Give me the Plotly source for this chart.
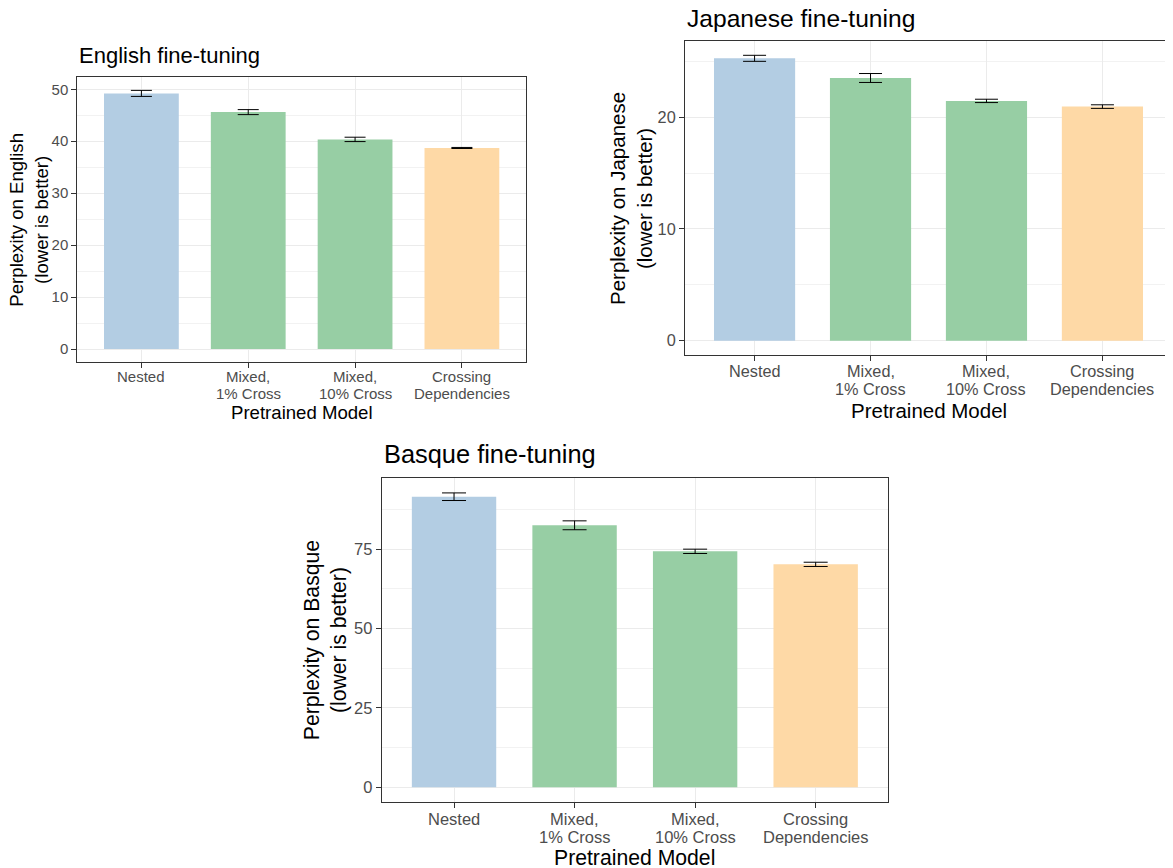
import plotly.graph_objects as go

# ---- data ----
categories = ["Nested", "Mixed, 1% Cross", "Mixed, 10% Cross", "Crossing Dependencies"]
tick_lines = [("Nested", ""), ("Mixed,", "1% Cross"), ("Mixed,", "10% Cross"), ("Crossing", "Dependencies")]
bar_colors = ["#B3CDE3", "#97CEA4", "#97CEA4", "#FED9A6"]

english_vals = [49.2, 45.6, 40.35, 38.7]
english_err = [0.58, 0.48, 0.42, 0.1]

japanese_vals = [25.27, 23.51, 21.46, 20.95]
japanese_err = [0.27, 0.40, 0.15, 0.16]

basque_vals = [91.5, 82.5, 74.3, 70.2]
basque_err = [1.2, 1.4, 0.68, 0.67]

english_ticks = [0, 10, 20, 30, 40, 50]
japanese_ticks = [0, 10, 20]
basque_ticks = [0, 25, 50, 75]

FONT = "Liberation Sans, Arial, sans-serif"
PAGE_W, PAGE_H = 1173, 868
OFF = 8  # default body margin of the page
W, H = PAGE_W - OFF, PAGE_H - OFF


def px_x(px):
    return (px - OFF) / W


def px_y(py):
    return 1 - (py - OFF) / H


panels = [
    dict(vals=english_vals, err=english_err, ticks=english_ticks, minor=5, yr=[-2.49, 52.3],
         box=(77.3, 526, 77.3, 362), hw=10.5, tf=15, af=18.6, pf=22,
         title="English fine-tuning", ylab="Perplexity on English<br>(lower is better)",
         title_y=55, ylab_x=29, xlab_y=412, tl1=377, tl2=393),
    dict(vals=japanese_vals, err=japanese_err, ticks=japanese_ticks, minor=5, yr=[-1.28, 26.82],
         box=(685, 1172, 41, 355), hw=11.5, tf=16.3, af=20.5, pf=24.6,
         title="Japanese fine-tuning", ylab="Perplexity on Japanese<br>(lower is better)",
         title_y=18, ylab_x=631, xlab_y=410, tl1=371, tl2=388.5),
    dict(vals=basque_vals, err=basque_err, ticks=basque_ticks, minor=12.5, yr=[-4.64, 97.3],
         box=(381.7, 888, 478.3, 802), hw=12, tf=16.5, af=21.2, pf=25.4,
         title="Basque fine-tuning", ylab="Perplexity on Basque<br>(lower is better)",
         title_y=454, ylab_x=326, xlab_y=857.5, tl1=818.5, tl2=837),
]

fig = go.Figure()
annotations = []
layout_axes = {}

for i, p in enumerate(panels, start=1):
    sfx = "" if i == 1 else str(i)
    xa, ya = "x" + sfx, "y" + sfx
    left, right, top, bottom = p["box"]
    fig.add_trace(go.Bar(
        x=categories, y=p["vals"], xaxis=xa, yaxis=ya,
        marker=dict(color=bar_colors, line=dict(width=0)),
        width=0.7,
        error_y=dict(type="data", array=p["err"], visible=True,
                     color="black", thickness=1, width=p["hw"]),
        hoverinfo="x+y", showlegend=False,
    ))
    layout_axes["xaxis" + sfx] = dict(
        domain=[px_x(left), px_x(right)], anchor=ya,
        type="category", range=[-0.6, 3.6],
        showgrid=True, gridcolor="#EBEBEB", gridwidth=1.3,
        showline=True, mirror=True, linecolor="#333333", linewidth=1,
        ticks="outside", ticklen=5, tickcolor="#333333", tickwidth=1,
        showticklabels=False,
        zeroline=False, fixedrange=True,
    )
    layout_axes["yaxis" + sfx] = dict(
        domain=[px_y(bottom), px_y(top)], anchor=xa,
        range=p["yr"], tickmode="array", tickvals=p["ticks"],
        ticktext=[str(t) for t in p["ticks"]],
        showgrid=True, gridcolor="#EBEBEB", gridwidth=1.3,
        minor=dict(showgrid=True, gridcolor="#F2F2F2", gridwidth=1,
                   tickmode="linear", tick0=p["minor"], dtick=p["minor"] * 2, ticks=""),
        showline=True, mirror=True, linecolor="#333333", linewidth=1,
        ticks="outside", ticklen=5, tickcolor="#333333", tickwidth=1,
        tickfont=dict(family=FONT, size=p["tf"], color="#4D4D4D"),
        zeroline=False, fixedrange=True,
    )
    # category tick labels (two lines each, tight ggplot-like spacing)
    for cat, (l1, l2) in zip(categories, tick_lines):
        for txt, yy in ((l1, p["tl1"]), (l2, p["tl2"])):
            if not txt:
                continue
            annotations.append(dict(
                text=txt, xref=xa, yref="paper", x=cat, y=px_y(yy),
                xanchor="center", yanchor="middle", showarrow=False,
                font=dict(family=FONT, size=p["tf"], color="#4D4D4D"),
            ))
    # plot title
    annotations.append(dict(
        text=p["title"], xref="paper", yref="paper",
        x=px_x(left), y=px_y(p["title_y"]), xanchor="left", yanchor="middle",
        showarrow=False, font=dict(family=FONT, size=p["pf"], color="black"),
    ))
    # x-axis title
    annotations.append(dict(
        text="Pretrained Model", xref="paper", yref="paper",
        x=px_x((left + right) / 2), y=px_y(p["xlab_y"]), xanchor="center", yanchor="middle",
        showarrow=False, font=dict(family=FONT, size=p["af"], color="black"),
    ))
    # y-axis title
    annotations.append(dict(
        text=p["ylab"], xref="paper", yref="paper", textangle=-90,
        x=px_x(p["ylab_x"]), y=px_y((top + bottom) / 2), xanchor="center", yanchor="middle",
        showarrow=False, font=dict(family=FONT, size=p["af"], color="black"),
    ))

fig.update_layout(
    width=W, height=H,
    margin=dict(l=0, r=0, t=0, b=0),
    paper_bgcolor="white", plot_bgcolor="white",
    showlegend=False, bargap=0.3,
    annotations=annotations,
    **layout_axes,
)

fig.write_html("out.html")
